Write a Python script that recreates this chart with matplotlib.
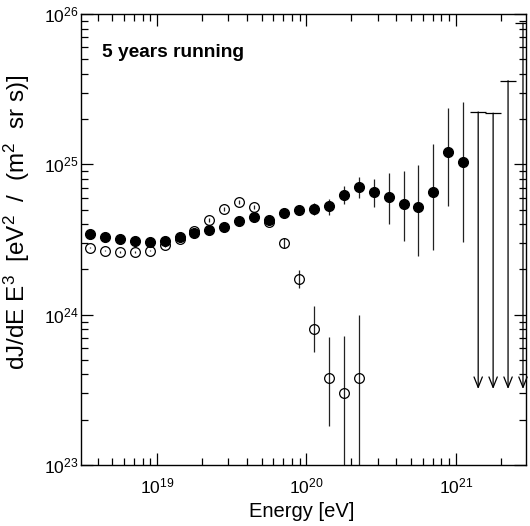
import matplotlib
matplotlib.use("Agg")
import matplotlib.pyplot as plt
import numpy as np

plt.rcParams['font.family'] = ['Liberation Sans', 'DejaVu Sans']
plt.rcParams['mathtext.fontset'] = 'custom'
plt.rcParams['mathtext.rm'] = 'Liberation Sans'
plt.rcParams['mathtext.it'] = 'Liberation Sans:italic'
plt.rcParams['mathtext.bf'] = 'Liberation Sans:bold'

# log10(E / eV) bin centres
filled_logE = [18.55, 18.65, 18.75, 18.85, 18.95, 19.05, 19.15, 19.25, 19.35, 19.45,
               19.55, 19.65, 19.75, 19.85, 19.95, 20.05, 20.15, 20.25, 20.35, 20.45,
               20.55, 20.65, 20.75, 20.85, 20.95, 21.05]
filled_flux = [3.45e24, 3.31e24, 3.21e24, 3.11e24, 3.02e24, 3.10e24, 3.28e24, 3.49e24,
               3.66e24, 3.80e24, 4.21e24, 4.45e24, 4.27e24, 4.78e24, 4.98e24, 5.08e24,
               5.26e24, 6.28e24, 7.07e24, 6.55e24, 6.04e24, 5.43e24, 5.21e24, 6.58e24,
               1.20e25, 1.04e25]
filled_hi = [3.50e24, 3.36e24, 3.26e24, 3.16e24, 3.07e24, 3.16e24, 3.35e24, 3.57e24,
             3.76e24, 3.92e24, 4.36e24, 4.63e24, 4.47e24, 5.03e24, 5.28e24, 5.51e24,
             5.89e24, 7.18e24, 8.24e24, 7.94e24, 8.79e24, 9.04e24, 9.93e24, 1.36e25,
             2.37e25, 2.60e25]
filled_lo = [3.40e24, 3.26e24, 3.16e24, 3.06e24, 2.97e24, 3.04e24, 3.21e24, 3.41e24,
             3.56e24, 3.68e24, 4.06e24, 4.27e24, 4.07e24, 4.53e24, 4.68e24, 4.61e24,
             4.61e24, 5.43e24, 5.94e24, 5.19e24, 4.02e24, 3.11e24, 2.44e24, 2.71e24,
             5.31e24, 3.06e24]

open_logE = [18.55, 18.65, 18.75, 18.85, 18.95, 19.05, 19.15, 19.25, 19.35, 19.45,
             19.55, 19.65, 19.75, 19.85, 19.95, 20.05, 20.15, 20.25, 20.35]
open_flux = [2.79e24, 2.67e24, 2.61e24, 2.62e24, 2.67e24, 2.89e24, 3.17e24, 3.58e24,
             4.25e24, 5.07e24, 5.64e24, 5.19e24, 4.14e24, 2.99e24, 1.73e24, 8.05e23,
             3.79e23, 3.01e23, 3.80e23]
open_hi = [2.82e24, 2.70e24, 2.64e24, 2.65e24, 2.70e24, 2.95e24, 3.24e24, 3.66e24,
           4.37e24, 5.22e24, 5.82e24, 5.36e24, 4.30e24, 3.24e24, 1.97e24, 1.135e24,
           7.06e23, 7.26e23, 1.0e24]
open_lo = [2.76e24, 2.64e24, 2.58e24, 2.59e24, 2.64e24, 2.83e24, 3.10e24, 3.50e24,
           4.13e24, 4.92e24, 5.46e24, 5.02e24, 3.98e24, 2.79e24, 1.50e24, 5.62e23,
           1.82e23, 1.0e22, 1.0e22]

# upper limits
ul_logE = [21.15, 21.25, 21.35, 21.45]
ul_flux = [2.23e25, 2.19e25, 3.6e25, 8.7e25]
ul_arrow_end = 3.2e23


def errs(val, lo, hi):
    val = np.array(val)
    return [val - np.array(lo), np.array(hi) - val]


fig = plt.figure(figsize=(5.30, 5.26), dpi=100)
ax = fig.add_axes([0.1528, 0.116, 0.8396, 0.8574])

e_open = 10 ** np.array(open_logE)
e_filled = 10 ** np.array(filled_logE)
e_ul = 10 ** np.array(ul_logE)

ax.errorbar(e_open, open_flux, yerr=errs(open_flux, open_lo, open_hi), fmt='o',
            mfc='none', mec='black', mew=0.9, ms=7, ecolor='#222222', elinewidth=0.9,
            capsize=0, zorder=2)
ax.errorbar(e_filled, filled_flux, yerr=errs(filled_flux, filled_lo, filled_hi), fmt='o',
            mfc='black', mec='black', ms=7, ecolor='#222222', elinewidth=0.9,
            capsize=0, zorder=3)

for x, top in zip(e_ul, ul_flux):
    ax.annotate('', xy=(x, ul_arrow_end), xytext=(x, top),
                arrowprops=dict(arrowstyle='->, head_length=0.75, head_width=0.3',
                                color='black', lw=0.9, shrinkA=0, shrinkB=0))
ax.plot(e_ul, ul_flux, linestyle='none', marker='_', ms=11, mew=0.9, color='black')

ax.set_xscale('log')
ax.set_yscale('log')
ax.set_xlim(10 ** 18.49, 10 ** 21.47)
ax.set_ylim(1e23, 1e26)

ax.tick_params(which='both', direction='in', top=True, right=True, width=0.9)
ax.tick_params(which='major', length=8.5, labelsize=12.5)
ax.tick_params(which='minor', length=5)
ax.tick_params(axis='y', which='major', pad=2)
ax.tick_params(axis='x', which='major', pad=8)
for s in ax.spines.values():
    s.set_linewidth(1.0)

ax.set_xlabel('Energy [eV]', fontsize=14.5)
ax.set_ylabel('dJ/dE E$^3$  [eV$^2$  /  (m$^2$  sr s)]', fontsize=17.5)
ax.xaxis.set_label_coords(0.4955, -0.082)
ax.yaxis.set_label_coords(-0.110, 0.538)

ax.text(0.0465, 0.905, '5 years running', transform=ax.transAxes, fontsize=13.8,
        fontweight='bold', va='baseline', ha='left')

fig.savefig('out.png', dpi=100)
